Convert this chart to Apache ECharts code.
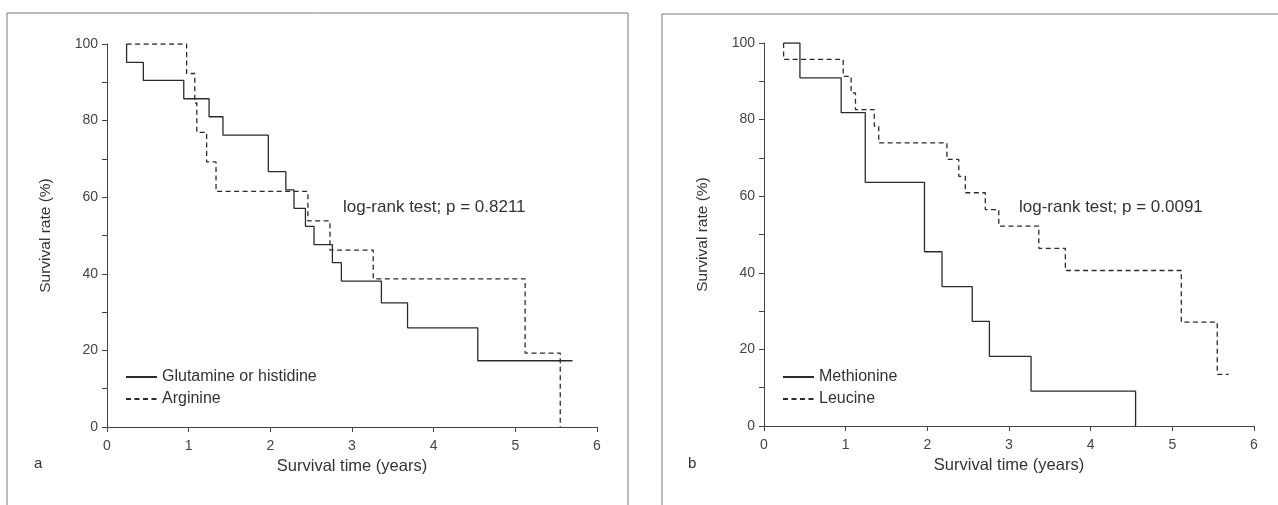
<!DOCTYPE html>
<html>
<head>
<meta charset="utf-8">
<script src="https://cdn.jsdelivr.net/npm/echarts@6/dist/echarts.min.js"></script>
<style>
  html, body { margin: 0; padding: 0; background: #fff; }
  #main { width: 1278px; height: 505px; }
</style>
</head>
<body>
<div id="main"></div>
<script>
// panel a
const glnTime = [0.24, 0.24, 0.445, 0.94, 1.25, 1.42, 1.975, 2.19, 2.29, 2.43, 2.535, 2.76, 2.87, 3.36, 3.68, 4.54, 5.70];
const glnSurv = [100, 95.2, 90.5, 85.7, 81.0, 76.2, 66.7, 61.9, 57.1, 52.4, 47.6, 42.9, 38.1, 32.4, 25.9, 17.3, 17.3];
const argTime = [0.24, 0.975, 1.075, 1.10, 1.22, 1.335, 2.46, 2.73, 3.26, 5.12, 5.55];
const argSurv = [100, 92.3, 84.6, 76.9, 69.2, 61.5, 53.8, 46.2, 38.7, 19.3, 0];
// panel b
const metTime = [0.24, 0.44, 0.945, 1.24, 1.965, 2.18, 2.55, 2.76, 3.27, 4.55];
const metSurv = [100, 90.9, 81.8, 63.6, 45.5, 36.4, 27.3, 18.2, 9.1, 0];
const leuTime = [0.24, 0.24, 0.97, 1.067, 1.12, 1.35, 1.405, 2.24, 2.385, 2.465, 2.71, 2.875, 3.365, 3.69, 5.11, 5.55, 5.69];
const leuSurv = [100, 95.7, 91.3, 87.0, 82.6, 78.3, 73.9, 69.6, 65.2, 60.9, 56.5, 52.2, 46.4, 40.6, 27.1, 13.5, 13.5];

const pText = ["log-rank test; p = 0.8211", "log-rank test; p = 0.0091"];

const ink = "#2b2b2b";
const font = "Liberation Sans";

function pairs(t, s) {
  return t.map((v, i) => [v, s[i]]);
}

function km(name, idx, t, s, dashed) {
  return {
    name: name,
    type: "line",
    step: "end",
    xAxisIndex: idx,
    yAxisIndex: idx,
    showSymbol: false,
    symbol: "none",
    animation: false,
    lineStyle: {
      color: ink,
      width: 1.3,
      type: dashed ? [5, 3.5] : "solid",
    },
    itemStyle: { color: ink },
    data: pairs(t, s),
  };
}

function xAx(idx) {
  return {
    gridIndex: idx,
    type: "value",
    min: 0,
    max: 6,
    interval: 1,
    name: "Survival time (years)",
    nameLocation: "middle",
    nameGap: 31,
    nameTextStyle: { color: "#333", fontSize: 16.5, fontFamily: font },
    axisLine: { lineStyle: { color: "#444", width: 1 } },
    axisTick: { length: 5, lineStyle: { color: "#444" } },
    axisLabel: { color: "#444", fontSize: 14, fontFamily: font, margin: 12 },
    splitLine: { show: false },
  };
}

function yAx(idx) {
  return {
    gridIndex: idx,
    type: "value",
    min: 0,
    max: 100,
    interval: 20,
    name: "Survival rate (%)",
    nameLocation: "middle",
    nameGap: 53,
    nameTextStyle: { color: "#333", fontSize: 15.5, fontFamily: font },
    axisLine: { show: true, lineStyle: { color: "#444", width: 1 } },
    axisTick: { show: true, length: 5, lineStyle: { color: "#444" } },
    minorTick: { show: true, splitNumber: 2, length: 5, lineStyle: { color: "#444" } },
    axisLabel: { color: "#444", fontSize: 14, fontFamily: font, margin: 9 },
    splitLine: { show: false },
  };
}

function legendFor(names, left) {
  return {
    data: names,
    orient: "vertical",
    left: left,
    top: 364,
    itemWidth: 31,
    itemHeight: 12,
    itemGap: 6,
    itemStyle: { opacity: 0, borderWidth: 0 },
    textStyle: { color: "#333", fontSize: 16, fontFamily: font },
    selectedMode: false,
  };
}

const chart = echarts.init(document.getElementById("main"), null, { renderer: "canvas" });
chart.setOption({
  animation: false,
  backgroundColor: "#fff",
  grid: [
    { left: 107, top: 44, width: 490, height: 383 },
    { left: 764, top: 43, width: 490, height: 383 },
  ],
  xAxis: [xAx(0), xAx(1)],
  yAxis: [yAx(0), yAx(1)],
  legend: [
    legendFor(["Glutamine or histidine", "Arginine"], 120),
    legendFor(["Methionine", "Leucine"], 777),
  ],
  series: [
    km("Glutamine or histidine", 0, glnTime, glnSurv, false),
    km("Arginine", 0, argTime, argSurv, true),
    km("Methionine", 1, metTime, metSurv, false),
    km("Leucine", 1, leuTime, leuSurv, true),
  ],
  graphic: [
    { type: "rect", shape: { x: 7, y: 13, width: 621, height: 520 }, style: { fill: "none", stroke: "#777", lineWidth: 1 } },
    { type: "rect", shape: { x: 662, y: 14, width: 640, height: 520 }, style: { fill: "none", stroke: "#777", lineWidth: 1 } },
    { type: "text", left: 343, top: 199, style: { text: pText[0], fill: "#333", font: "17px " + font } },
    { type: "text", left: 1019, top: 199, style: { text: pText[1], fill: "#333", font: "17px " + font } },
    { type: "text", left: 34, top: 456, style: { text: "a", fill: "#333", font: "15px " + font } },
    { type: "text", left: 688, top: 456, style: { text: "b", fill: "#333", font: "15px " + font } },
  ],
});
</script>
</body>
</html>
